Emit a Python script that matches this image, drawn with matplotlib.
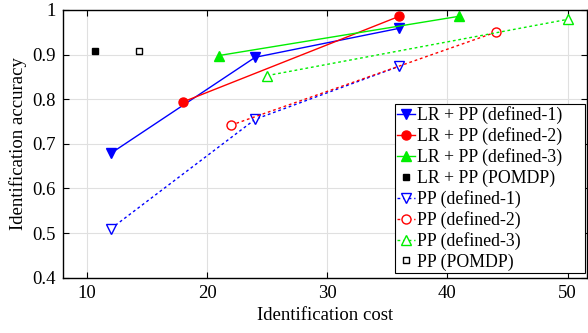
import matplotlib
matplotlib.use("Agg")
from matplotlib import pyplot as plt
from matplotlib.ticker import FuncFormatter

plt.rcParams["font.family"] = ["Liberation Serif", "DejaVu Serif"]

# data
lr_def1_x = [12, 24, 36]
lr_def1_y = [0.679, 0.894, 0.959]
lr_def2_x = [18, 36]
lr_def2_y = [0.794, 0.986]
lr_def3_x = [21, 41]
lr_def3_y = [0.898, 0.986]
lr_pomdp_x = [10.7]
lr_pomdp_y = [0.907]
pp_def1_x = [12, 24, 36]
pp_def1_y = [0.51, 0.755, 0.874]
pp_def2_x = [22, 44]
pp_def2_y = [0.742, 0.95]
pp_def3_x = [25, 50]
pp_def3_y = [0.853, 0.979]
pp_pomdp_x = [14.3]
pp_pomdp_y = [0.909]

fig = plt.figure(figsize=(5.88, 3.33), dpi=100)
ax = fig.add_axes([0.107, 0.166, 0.891, 0.804])

ax.plot(lr_def1_x, lr_def1_y, color="blue", marker="v", markersize=7, lw=1,
        label="LR + PP (defined-1)")
ax.plot(lr_def2_x, lr_def2_y, color="red", marker="o", markersize=6.5, lw=1,
        label="LR + PP (defined-2)")
ax.plot(lr_def3_x, lr_def3_y, color="#00ee00", marker="^", markersize=7, lw=1,
        label="LR + PP (defined-3)")
ax.plot(lr_pomdp_x, lr_pomdp_y, color="black", marker="s", markersize=5, lw=0,
        label="LR + PP (POMDP)")
ax.plot(pp_def1_x, pp_def1_y, color="blue", marker="v", markersize=7, lw=1,
        ls=(0, (2, 2)), markerfacecolor="white", label="PP (defined-1)")
ax.plot(pp_def2_x, pp_def2_y, color="red", marker="o", markersize=6.5, lw=1,
        ls=(0, (2, 2)), markerfacecolor="white", label="PP (defined-2)")
ax.plot(pp_def3_x, pp_def3_y, color="#00ee00", marker="^", markersize=7, lw=1,
        ls=(0, (2, 2)), markerfacecolor="white", label="PP (defined-3)")
ax.plot(pp_pomdp_x, pp_pomdp_y, color="black", marker="s", markersize=5, lw=0,
        markerfacecolor="white", label="PP (POMDP)")

ax.set_xlim(8, 51.6)
ax.set_ylim(0.4, 1.0)
ax.set_xticks([10, 20, 30, 40, 50])
ax.set_yticks([0.4, 0.5, 0.6, 0.7, 0.8, 0.9, 1.0])
ax.yaxis.set_major_formatter(FuncFormatter(lambda v, p: "%g" % round(v, 2)))
ax.tick_params(direction="in", top=True, right=True, labelsize=13.5,
               length=4, pad=5)
ax.grid(True, color="#e0e0e0", lw=0.8)
ax.set_axisbelow(True)
for s in ax.spines.values():
    s.set_linewidth(1)

ax.set_xlabel("Identification cost", fontsize=13.5, labelpad=4)
ax.set_ylabel("Identification accuracy", fontsize=13.5, labelpad=4)

# legend box wider than its text, like the original
leg = ax.legend(loc="lower left", bbox_to_anchor=(0.634, 0.018, 0.362, 0.63),
                mode="expand", borderaxespad=0, fontsize=12.8,
                handlelength=1.0, handletextpad=0.1, borderpad=0.12,
                labelspacing=0.18, fancybox=False, framealpha=1,
                edgecolor="black")
leg.get_frame().set_linewidth(0.8)

fig.savefig("out.png", dpi=100)
